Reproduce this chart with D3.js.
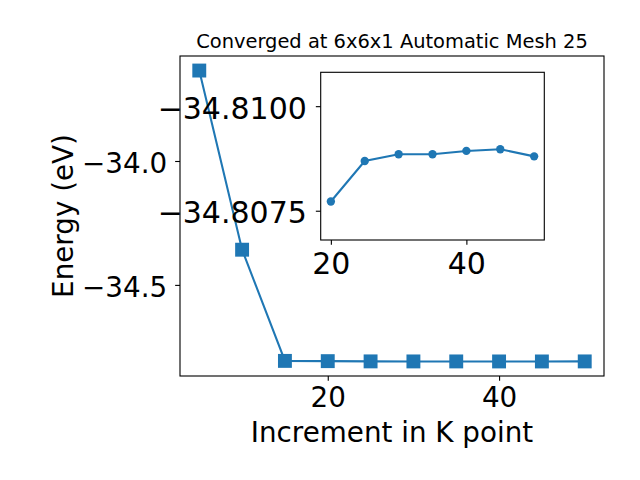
<!DOCTYPE html>
<html>
<head>
<meta charset="utf-8">
<script src="https://cdn.jsdelivr.net/npm/d3@7"></script>
<style>
  html, body { margin: 0; padding: 0; background: #fff; }
  text { font-family: "DejaVu Sans", sans-serif; }
</style>
</head>
<body>
<svg id="chart" width="640" height="480"></svg>
<script>
// ---- data ----
const kPoints = [5, 10, 15, 20, 25, 30, 35, 40, 45, 50];
const energies = [-33.635, -34.358, -34.8067, -34.80772, -34.80869, -34.80885, -34.80885, -34.80893, -34.80897, -34.80880];
const insetK = [20, 25, 30, 35, 40, 45, 50];
const insetEnergies = [-34.80772, -34.80869, -34.80885, -34.80885, -34.80893, -34.80897, -34.80880];
const mainXTicks = [20, 40];
const mainYTicks = [-34.0, -34.5];
const mainYTickLabels = ["\u221234.0", "\u221234.5"];
const insetXTicks = [20, 40];
const insetYTicks = [-34.8100, -34.8075];
const insetYTickLabels = ["\u221234.8100", "\u221234.8075"];
const titleText = "Converged at 6x6x1 Automatic Mesh 25";
const xLabel = "Increment in K point";
const yLabel = "Energy (eV)";

const color = "#1f77b4";
const svg = d3.select("#chart");
const tickLen = 4.86, fs = 27.78, ifs = 30;

// ---- main axes ----
const M = { l: 180, r: 604, t: 56, b: 376 };
const xr = d3.extent(kPoints), xp = (xr[1] - xr[0]) * 0.05;
const yr = d3.extent(energies), yp = (yr[1] - yr[0]) * 0.05;
const x = d3.scaleLinear().domain([xr[0] - xp, xr[1] + xp]).range([M.l, M.r]);
const y = d3.scaleLinear().domain([yr[0] - yp, yr[1] + yp]).range([M.b, M.t]);

const line = d3.line().x((d, i) => x(kPoints[i])).y(d => y(d));
svg.append("path").datum(energies).attr("d", line)
  .attr("fill", "none").attr("stroke", color).attr("stroke-width", 2.08);
const ms = 13.9;
svg.selectAll("rect.mk").data(energies).enter().append("rect")
  .attr("x", (d, i) => x(kPoints[i]) - ms / 2).attr("y", d => y(d) - ms / 2)
  .attr("width", ms).attr("height", ms).attr("fill", color);

function styleAxis(g, size) {
  g.selectAll(".domain").remove();
  g.selectAll(".tick line").attr("stroke", "#000").attr("stroke-width", 1.11);
  g.selectAll(".tick text").attr("font-size", size).attr("fill", "#000")
    .attr("font-family", "DejaVu Sans, sans-serif");
}

const gx = svg.append("g").attr("transform", `translate(0,${M.b})`)
  .call(d3.axisBottom(x).tickValues(mainXTicks).tickFormat(d3.format("d")).tickSize(tickLen).tickPadding(5));
styleAxis(gx, fs);
gx.selectAll(".tick text").attr("dy", null).attr("y", 31);

const gy = svg.append("g").attr("transform", `translate(${M.l},0)`)
  .call(d3.axisLeft(y).tickValues(mainYTicks).tickFormat((d, i) => mainYTickLabels[i]).tickSize(tickLen).tickPadding(8));
styleAxis(gy, fs);
gy.selectAll(".tick text").attr("dy", "0.41em");

svg.append("rect").attr("x", M.l).attr("y", M.t).attr("width", M.r - M.l).attr("height", M.b - M.t)
  .attr("fill", "none").attr("stroke", "#000").attr("stroke-width", 1.11);

svg.append("text").attr("x", (M.l + M.r) / 2).attr("y", 47.5).attr("text-anchor", "middle")
  .attr("font-size", 19.44).text(titleText);
svg.append("text").attr("x", (M.l + M.r) / 2).attr("y", 441.5).attr("text-anchor", "middle")
  .attr("font-size", fs).text(xLabel);
svg.append("text").attr("transform", `translate(72.5,${(M.t + M.b) / 2}) rotate(-90)`)
  .attr("text-anchor", "middle").attr("font-size", fs).text(yLabel);

// ---- inset axes ----
const I = { l: 320.7, r: 544.3, t: 72.3, b: 240 };
const ixr = d3.extent(insetK), ixp = (ixr[1] - ixr[0]) * 0.05;
const ix = d3.scaleLinear().domain([ixr[0] - ixp, ixr[1] + ixp]).range([I.l, I.r]);
const iy = d3.scaleLinear().domain([-34.8068, -34.81081]).range([I.b, I.t]);

svg.append("rect").attr("x", I.l).attr("y", I.t).attr("width", I.r - I.l).attr("height", I.b - I.t)
  .attr("fill", "#fff");
const iline = d3.line().x((d, i) => ix(insetK[i])).y(d => iy(d));
svg.append("path").datum(insetEnergies).attr("d", iline)
  .attr("fill", "none").attr("stroke", color).attr("stroke-width", 2.08);
svg.selectAll("circle.mk").data(insetEnergies).enter().append("circle")
  .attr("cx", (d, i) => ix(insetK[i])).attr("cy", d => iy(d)).attr("r", 4.17).attr("fill", color);

const igx = svg.append("g").attr("transform", `translate(0,${I.b})`)
  .call(d3.axisBottom(ix).tickValues(insetXTicks).tickFormat(d3.format("d")).tickSize(tickLen).tickPadding(5));
styleAxis(igx, ifs);
igx.selectAll(".tick text").attr("dy", null).attr("y", 33.5);

const igy = svg.append("g").attr("transform", `translate(${I.l},0)`)
  .call(d3.axisLeft(iy).tickValues(insetYTicks).tickFormat((d, i) => insetYTickLabels[i]).tickSize(tickLen).tickPadding(9));
styleAxis(igy, ifs);
igy.selectAll(".tick text").attr("dy", "0.4em");

svg.append("rect").attr("x", I.l).attr("y", I.t).attr("width", I.r - I.l).attr("height", I.b - I.t)
  .attr("fill", "none").attr("stroke", "#000").attr("stroke-width", 1.11);
</script>
</body>
</html>
